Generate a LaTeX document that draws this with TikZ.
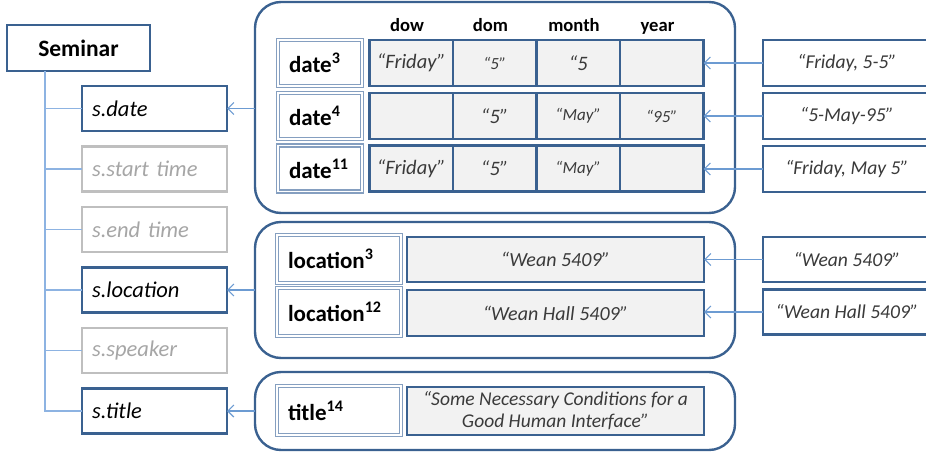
\documentclass[tikz,border=0pt]{standalone}
\usepackage{fontspec}
\setmainfont{Carlito}
\usetikzlibrary{arrows.meta}
\definecolor{dkblue}{HTML}{3A6190}
\definecolor{ltblue}{HTML}{6C9BD2}
\definecolor{treeblue}{HTML}{8DB3E2}
\definecolor{greyline}{HTML}{BFBFBF}
\definecolor{greytext}{HTML}{A6A6A6}
\definecolor{cellfill}{HTML}{F2F2F2}
\definecolor{labline}{HTML}{859FC0}
\definecolor{valtext}{HTML}{3A3A3A}
\tikzset{
  base/.style={rectangle, inner sep=0pt, outer sep=0pt},
  leftbox/.style={base, draw=dkblue, line width=2.6pt, fill=white, text width=125pt, inner xsep=10pt, minimum height=45pt, align=left, font=\fontsize{22.5}{26}\selectfont\itshape, text=black},
  greybox/.style={leftbox, draw=greyline, text=greytext},
  rootbox/.style={base, draw=dkblue, line width=2.6pt, fill=white, minimum width=143pt, minimum height=46pt, font=\fontsize{23.5}{27}\selectfont\bfseries},
  grp/.style={base, draw=dkblue, line width=2.4pt, rounded corners=26pt},
  labbox/.style={base, draw=labline, double=white, double distance=1.4pt, line width=1.5pt, fill=white, align=left, inner xsep=11pt, font=\fontsize{23}{26}\selectfont\bfseries},
  cell/.style={base, draw=dkblue, line width=2.6pt, fill=cellfill, minimum width=83.5pt, minimum height=46pt, font=\fontsize{20.5}{23}\selectfont\itshape, text=valtext},
  valbox/.style={base, draw=dkblue, line width=2.6pt, fill=cellfill, minimum width=297pt, align=center, font=\fontsize{20}{23}\selectfont\itshape, text=valtext},
  srcbox/.style={base, draw=dkblue, line width=2.6pt, fill=white, minimum width=168pt, minimum height=46pt, font=\fontsize{19.6}{22}\selectfont\itshape, text=valtext},
  hdr/.style={base, anchor=base, font=\fontsize{18.6}{21}\selectfont\bfseries},
  conn/.style={draw=ltblue, line width=1.2pt, -{Straight Barb[length=6pt,width=12pt,line width=1.2pt]}},
  tree/.style={draw=treeblue, line width=1.5pt}
}
\newcommand{\smallval}{\fontsize{17}{20}\selectfont}
\begin{document}
\begin{tikzpicture}[x=1pt,y=-1pt]
\useasboundingbox (0,0) rectangle (926,452);
% groups
\node[grp, minimum width=480pt, minimum height=211pt] (g1) at (495,107.5) {};
\node[grp, minimum width=480pt, minimum height=136pt] (g2) at (495,290) {};
\node[grp, minimum width=480pt, minimum height=78pt] (g3) at (495,411) {};
% left tree
\node[rootbox] (sem) at (78.5,48) {Seminar};
\node[leftbox] (sdate) at (154.5,108.5) {s.date};
\node[greybox] (sstart) at (154.5,169) {s.start time};
\node[greybox] (send) at (154.5,229.5) {s.end time};
\node[leftbox] (sloc) at (154.5,290) {s.location};
\node[greybox] (sspk) at (154.5,350.5) {s.speaker};
\node[leftbox] (stitle) at (154.5,411) {s.title};
\coordinate (trunk) at (45,71);
\draw[tree] (trunk) |- (stitle.west);
\draw[tree] (trunk |- sdate.west) -- (sdate.west);
\draw[tree] (trunk |- sstart.west) -- (sstart.west);
\draw[tree] (trunk |- send.west) -- (send.west);
\draw[tree] (trunk |- sloc.west) -- (sloc.west);
\draw[tree] (trunk |- sspk.west) -- (sspk.west);
% headers
\node[hdr] (hdow) at (407,32) {dow};
\node[hdr] (hdom) at (490.5,32) {dom};
\node[hdr] (hmonth) at (574,32) {month};
\node[hdr] (hyear) at (657.5,32) {year};
% date labels
\node[labbox, text width=62pt, minimum height=46pt] (d3) at (320,63) {date\textsuperscript{3}};
\node[labbox, text width=62pt, minimum height=46pt] (d4) at (320,116) {date\textsuperscript{4}};
\node[labbox, text width=62pt, minimum height=46pt] (d11) at (320,168.5) {date\textsuperscript{11}};
% cells row 1
\node[cell] (c11) at (411.25,63) {“Friday”};
\node[cell] (c12) at (494.75,63) {\smallval “5”};
\node[cell] (c13) at (578.25,63) {“5};
\node[cell] (c14) at (661.75,63) {};
% row 2
\node[cell] (c21) at (411.25,116) {};
\node[cell] (c22) at (494.75,116) {“5”};
\node[cell] (c23) at (578.25,116) {\smallval “May”};
\node[cell] (c24) at (661.75,116) {\smallval “95”};
% row 3
\node[cell] (c31) at (411.25,168.5) {“Friday”};
\node[cell] (c32) at (494.75,168.5) {“5”};
\node[cell] (c33) at (578.25,168.5) {\smallval “May”};
\node[cell] (c34) at (661.75,168.5) {};
% location
\node[labbox, text width=102pt, minimum height=48pt] (l3) at (339,259) {location\textsuperscript{3}};
\node[labbox, text width=102pt, minimum height=48pt] (l12) at (339,312) {location\textsuperscript{12}};
\node[valbox, minimum height=45pt] (v3) at (555.5,259.5) {“Wean 5409”};
\node[valbox, minimum height=46pt] (v12) at (555.5,313) {“Wean Hall 5409”};
% title
\node[labbox, text width=102pt, minimum height=49pt] (t14) at (339,410.5) {title\textsuperscript{14}};
\node[valbox, minimum height=48pt, font=\fontsize{19.5}{22}\selectfont\itshape] (vt) at (555.5,411) {“Some Necessary Conditions for a\\Good Human Interface”};
% source boxes
\node[srcbox] (r1) at (847,63) {“Friday, 5-5”};
\node[srcbox] (r2) at (847,116) {“5-May-95”};
\node[srcbox] (r3) at (847,169) {“Friday, May 5”};
\node[srcbox, minimum height=45pt] (r4) at (847,259.5) {“Wean 5409”};
\node[srcbox, minimum height=45pt] (r5) at (847,312) {“Wean Hall 5409”};
% connectors
\draw[conn] (r1.west) -- (c14.east);
\draw[conn] (r2.west) -- (c24.east);
\draw[conn] (r3.west) -- (r3.west -| c34.east);
\draw[conn] (r4.west) -- (r4.west -| v3.east);
\draw[conn] (r5.west) -- (r5.west -| v12.east);
\draw[conn] (g1.west |- sdate.east) -- (sdate.east);
\draw[conn] (g2.west |- sloc.east) -- (sloc.east);
\draw[conn] (g3.west |- stitle.east) -- (stitle.east);
\end{tikzpicture}
\end{document}
